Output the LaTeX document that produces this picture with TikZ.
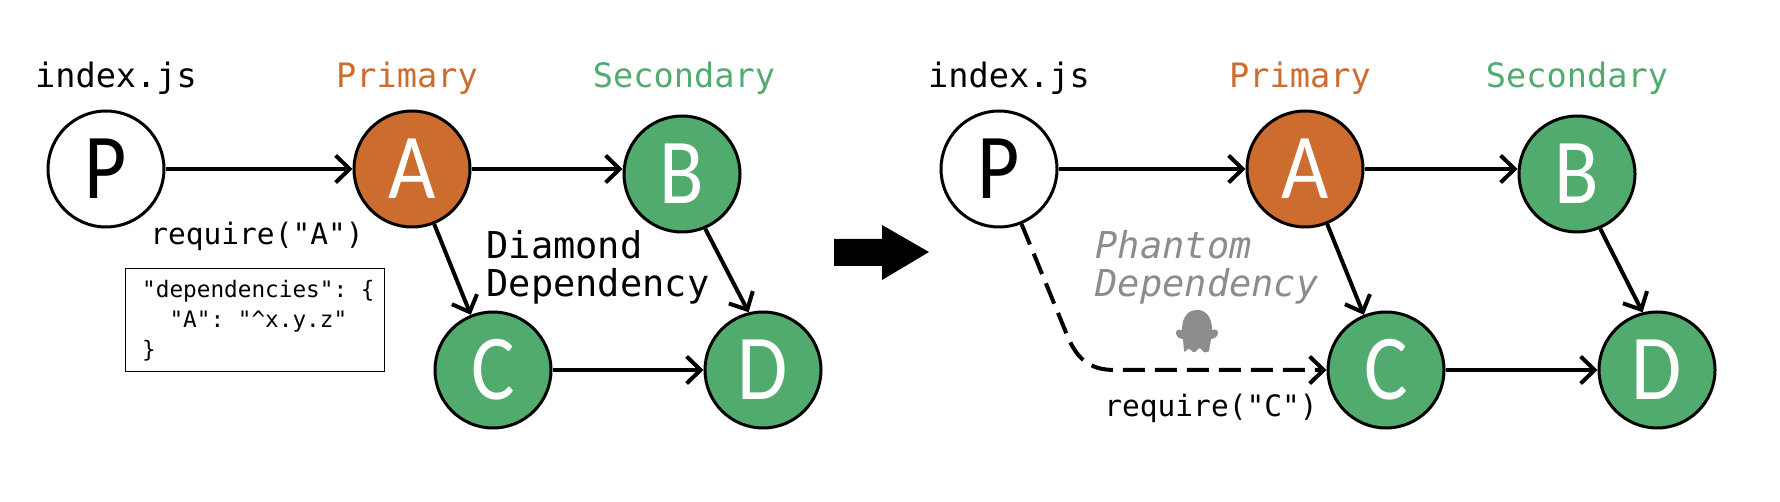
\documentclass[tikz,border=0pt]{standalone}
\usepackage{graphicx}
\usepackage{fontspec}
\setmonofont{DejaVu Sans Mono}
\newfontfamily\letterfont{Carlito}
\usetikzlibrary{arrows.meta}
\definecolor{primarycol}{HTML}{CC6C2E}
\definecolor{secondarycol}{HTML}{52AB6E}
\definecolor{phantomcol}{HTML}{8C8C8C}
\newcommand{\pkgname}[1]{\scalebox{0.95}[1.08]{#1}}

\begin{document}
\begin{tikzpicture}[x=1pt,y=-1pt,
    dep/.style={circle,draw=black,line width=3pt,minimum size=116pt,inner sep=0pt,
      font=\letterfont\fontsize{86}{86}\selectfont},
    pkgp/.style={dep,fill=white,text=black},
    pkga/.style={dep,fill=primarycol,text=white},
    pkgb/.style={dep,fill=secondarycol,text=white},
    link/.style={-{Straight Barb[length=14pt,width=27pt,line width=4pt]},line width=4pt},
    mono/.style={font=\ttfamily\fontsize{33.6}{38}\selectfont,align=left,inner sep=0pt},
    big/.style={font=\ttfamily\fontsize{37}{38}\selectfont,align=left,inner sep=0pt},
    small/.style={font=\ttfamily\fontsize{29.5}{38}\selectfont,align=left,inner sep=0pt}]
  \useasboundingbox (0,0) rectangle (1780,502);
  % left
  \node[pkgp] (p) at (106,169) {\pkgname{P}};
  \node[pkga] (a) at (412,169) {\pkgname{A}};
  \node[pkgb] (b) at (682,174) {\pkgname{B}};
  \node[pkgb] (c) at (493,370) {\pkgname{C}};
  \node[pkgb] (d) at (763,370) {\pkgname{D}};
  \draw[link] (p) -- (a);
  \draw[link] (a.east) -- (a.east -| b.west);
  \draw[link] (a) -- (c);
  \draw[link] (b.-67) -- (d.104);
  \draw[link] (c) -- (d);
  \node[mono] (i1) at (116,78) {index.js};
  \node[mono,text=primarycol] (pr1) at (407,78) {Primary};
  \node[mono,text=secondarycol] (se1) at (684,78) {Secondary};
  \node[small] (r1) at (257,236) {require("A")};
  \node[big] (dia) at (598,267) {Diamond\\Dependency};
  \node[draw=black,line width=1.5pt,minimum width=259pt,minimum height=103pt,inner sep=0pt] (pkgjson) at (255,320) {};
  \node[font=\ttfamily\fontsize{22.7}{30}\selectfont,align=left,inner sep=0pt,anchor=west] (json) at (142,321) {"dependencies": \{\\\ \ "A": "\^{}x.y.z"\\\}};
  % big arrow
  \fill (834,239) -- (882,239) -- (882,225) -- (929,252) -- (882,280) -- (882,266) -- (834,266) -- cycle;
  % right
  \node[pkgp] (p2) at (999,169) {\pkgname{P}};
  \node[pkga] (a2) at (1305,169) {\pkgname{A}};
  \node[pkgb] (b2) at (1577,174) {\pkgname{B}};
  \node[pkgb] (c2) at (1386,370) {\pkgname{C}};
  \node[pkgb] (d2) at (1657,370) {\pkgname{D}};
  \draw[link] (p2) -- (a2);
  \draw[link] (a2.east) -- (a2.east -| b2.west);
  \draw[link] (a2) -- (c2);
  \draw[link] (b2.-67) -- (d2.104);
  \draw[link] (c2) -- (d2);
  \draw[link,dash pattern=on 22pt off 10pt] (p2) -- (1065,330) .. controls (1076,360) and (1090,370) .. (1115,370) -- (c2);
  \node[mono] (i2) at (1009,78) {index.js};
  \node[mono,text=primarycol] (pr2) at (1300,78) {Primary};
  \node[mono,text=secondarycol] (se2) at (1577,78) {Secondary};
  \node[small] (r2) at (1211,408) {require("C")};
  \node[big,text=phantomcol,font=\ttfamily\itshape\fontsize{37}{38}\selectfont] (ph) at (1207,267) {Phantom\\Dependency};
  % ghost
  \fill[phantomcol] (1182,330) .. controls (1182,317) and (1188,310) .. (1197,310)
    .. controls (1206,310) and (1212,317) .. (1212,330)
    .. controls (1214,329) and (1218,329) .. (1218,333)
    .. controls (1218,337) and (1213,339) .. (1211,339)
    -- (1209,351) .. controls (1206,353) and (1204,353) .. (1202,350)
    .. controls (1200,347) and (1199,348) .. (1197,350)
    .. controls (1195,353) and (1193,353) .. (1191,350)
    .. controls (1189,348) and (1188,348) .. (1186,351)
    .. controls (1185,352) and (1184,352) .. (1184,351)
    -- (1183,339) .. controls (1180,339) and (1176,337) .. (1176,333)
    .. controls (1176,329) and (1180,329) .. (1182,330) -- cycle;
\end{tikzpicture}
\end{document}
